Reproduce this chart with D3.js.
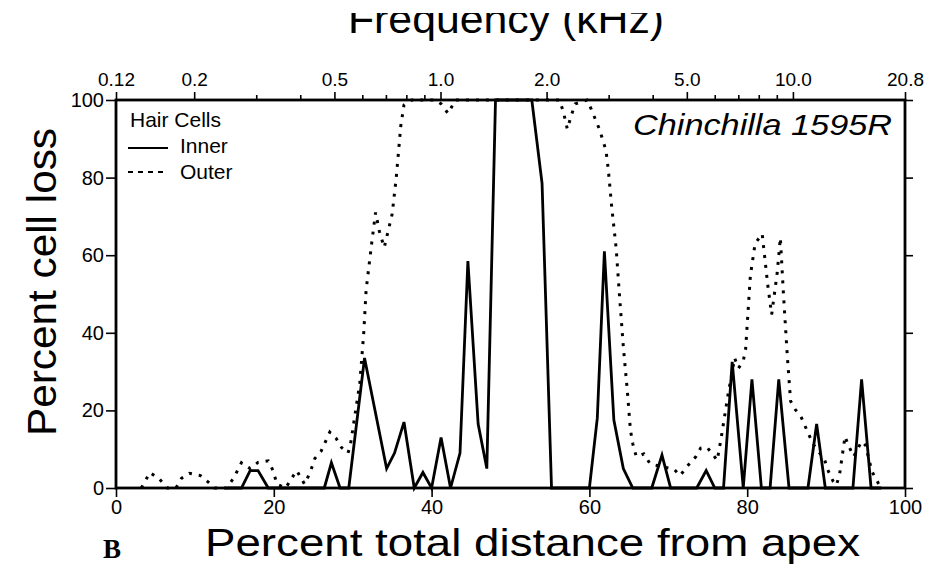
<!DOCTYPE html>
<html>
<head>
<meta charset="utf-8">
<script src="https://cdn.jsdelivr.net/npm/d3@7"></script>
<style>
  body { margin: 0; background: #fff; }
  svg { display: block; }
  text { font-family: "Liberation Sans", Arial, Helvetica, sans-serif; fill: #000; }
</style>
</head>
<body>
<div id="chart"></div>
<script>
// percent distance from apex / percent cell loss
var innerX = [14, 15.9, 17, 18, 19.3, 26.4, 27.3, 28.4, 29.5, 31.5, 34.3, 35.3, 36.5, 37.8, 38.9, 40, 41.2, 42.4, 43.6, 44.6, 45.9, 47, 48.1, 52.7, 54, 55.2, 60, 61, 61.9, 63.1, 64.3, 65.5, 67.9, 69.2, 70.3, 73.6, 74.8, 75.9, 77, 78.1, 79.5, 80.6, 81.8, 82.9, 84, 85.3, 87.7, 88.8, 89.9, 93.4, 94.5, 95.7, 97];
var innerY = [0, 0, 4.5, 4.5, 0, 0, 6.5, 0, 0, 33.5, 5, 9, 17, 0, 4, 0, 13, 0, 9, 58.5, 16.5, 5, 100, 100, 78.5, 0, 0, 18, 61, 17.5, 5, 0, 0, 8.5, 0, 0, 4.5, 0, 0, 32.5, 0, 28, 0, 0, 28, 0, 0, 16.5, 0, 0, 28, 0, 0];

var outerX = [3.2, 4.3, 5.5, 6.5, 7.6, 8.3, 9.3, 10.7, 11.7, 12.5, 14, 14.9, 15.9, 17, 18, 19.3, 19.9, 20.4, 21.5, 22.2, 22.9, 23.9, 24.6, 25.2, 26, 27.1, 27.9, 28.6, 29.4, 29.7, 30.3, 30.9, 31.4, 31.7, 32.4, 32.9, 33.4, 34, 35, 35.5, 36.1, 36.5, 37.5, 40.5, 41.2, 42.1, 43, 56.2, 56.7, 57.2, 57.7, 58.2, 59.7, 60.2, 61.3, 62.1, 62.4, 62.8, 63.4, 63.8, 64.3, 64.8, 65.2, 65.5, 65.9, 66.1, 66.9, 67.7, 69.7, 70.7, 71.5, 72.4, 73.5, 74.1, 74.9, 75.7, 76.2, 76.7, 77.5, 78.4, 78.9, 79.5, 79.8, 80.4, 81, 81.9, 82.6, 83.1, 83.8, 84.2, 84.6, 85.1, 85.5, 86.1, 86.8, 87.8, 88.4, 89.8, 90.3, 90.9, 91.3, 91.7, 92.4, 92.8, 93.5, 94.5, 95, 95.8, 96.6, 97];
var outerY = [0, 4, 2.3, 0, 0, 2.5, 3.8, 3.2, 1.5, 0, 0, 2.5, 6.5, 5, 6.6, 7, 4.5, 1, 0, 2.3, 4.5, 1, 4, 7.6, 9.5, 14.4, 12.8, 10.4, 9, 11, 19, 27, 40, 51, 63, 71, 66, 62, 70.6, 79.6, 93.4, 98.7, 100, 100, 99, 96.5, 100, 100, 97, 92.5, 96, 99, 100, 97.8, 92.3, 87, 82, 73, 61.6, 50, 36.4, 25.2, 14.9, 11.4, 8.4, 8, 8.8, 6.2, 5.3, 4.9, 3.2, 5.6, 8.1, 10.3, 10.5, 8.5, 7.1, 12.9, 23.2, 33.5, 30.9, 32.7, 35.8, 54.7, 63, 65.5, 52.4, 44.7, 55.4, 64.5, 49.8, 33.5, 22.4, 20.2, 18.5, 13.8, 11.2, 7.3, 4.3, 1.7, 0.7, 3.4, 13.3, 11.1, 8.1, 12, 11, 4.3, 1.3, 0];

var yTicks = [0, 20, 40, 60, 80, 100];
var xTicks = [0, 20, 40, 60, 80, 100];
var freqLabels = [0.12, 0.2, 0.5, 1.0, 2.0, 5.0, 10.0, 20.8];
var freqMinor = [0.3, 0.4, 0.6, 0.7, 0.8, 0.9, 3, 4, 6, 7, 8, 9];

var W = 945, H = 573;
var mLeft = 116, mRight = 905, mTop = 100, mBottom = 488;

var svg = d3.select("#chart").append("svg")
    .attr("width", W)
    .attr("height", H);

var x = d3.scaleLinear().domain([0, 100]).range([mLeft, mRight]);
var y = d3.scaleLinear().domain([0, 100]).range([mBottom, mTop]);
var f = d3.scaleLog().domain([0.12, 20.8]).range([mLeft, mRight]);

// bottom axis
var xAxis = svg.append("g")
    .attr("transform", "translate(0," + mBottom + ")")
    .call(d3.axisBottom(x).tickValues(xTicks).tickSize(9).tickPadding(3));
xAxis.selectAll("text").style("font-size", "20px");

// left axis
var yAxis = svg.append("g")
    .attr("transform", "translate(" + mLeft + ",0)")
    .call(d3.axisLeft(y).tickValues(yTicks).tickSize(10).tickPadding(2));
yAxis.selectAll("text").style("font-size", "20px");

// right axis, ticks only
svg.append("g")
    .attr("transform", "translate(" + mRight + ",0)")
    .call(d3.axisRight(y).tickValues(yTicks).tickSize(8).tickFormat(""));

// top frequency axis
var fAxis = svg.append("g")
    .attr("transform", "translate(0," + mTop + ")")
    .call(d3.axisTop(f).tickValues(freqLabels).tickSize(8).tickPadding(6)
        .tickFormat(function(d) { return d == 0.12 || d == 20.8 ? String(d) : d3.format(".1f")(d); }));
fAxis.selectAll("text").style("font-size", "19px");

svg.append("g")
    .attr("transform", "translate(0," + mTop + ")")
    .call(d3.axisTop(f).tickValues(freqMinor).tickSize(5).tickFormat(""));

svg.selectAll(".domain").remove();
svg.selectAll(".tick line").attr("stroke", "#000").attr("stroke-width", 1.6);

// frame
svg.append("rect")
    .attr("x", mLeft).attr("y", mTop)
    .attr("width", mRight - mLeft).attr("height", mBottom - mTop)
    .attr("fill", "none")
    .attr("stroke", "#000")
    .attr("stroke-width", 2.8);

var line = d3.line()
    .x(function(d) { return x(d[0]); })
    .y(function(d) { return y(d[1]); });

var outer = d3.zip(outerX, outerY);
var inner = d3.zip(innerX, innerY);

svg.append("path")
    .datum(outer)
    .attr("d", line)
    .attr("fill", "none")
    .attr("stroke", "#000")
    .attr("stroke-width", 3)
    .attr("stroke-dasharray", "3,7");

svg.append("path")
    .datum(inner)
    .attr("d", line)
    .attr("fill", "none")
    .attr("stroke", "#000")
    .attr("stroke-width", 2.8)
    .attr("stroke-linejoin", "miter");

// legend
svg.append("text").attr("x", 130).attr("y", 127).style("font-size", "21px").text("Hair Cells");
svg.append("line").attr("x1", 128).attr("x2", 168).attr("y1", 148).attr("y2", 148)
    .attr("stroke", "#000").attr("stroke-width", 2);
svg.append("text").attr("x", 180).attr("y", 153).style("font-size", "21px").text("Inner");
svg.append("line").attr("x1", 128).attr("x2", 164).attr("y1", 172).attr("y2", 172)
    .attr("stroke", "#000").attr("stroke-width", 2).attr("stroke-dasharray", "5,5");
svg.append("text").attr("x", 180).attr("y", 179).style("font-size", "21px").text("Outer");

svg.append("text")
    .attr("x", 633).attr("y", 135)
    .attr("textLength", 259).attr("lengthAdjust", "spacingAndGlyphs")
    .style("font-size", "29px").style("font-style", "italic")
    .text("Chinchilla  1595R");

// axis titles
svg.append("text")
    .attr("x", 205).attr("y", 556)
    .attr("textLength", 655).attr("lengthAdjust", "spacingAndGlyphs")
    .style("font-size", "39px")
    .text("Percent total distance from apex");

svg.append("text")
    .attr("transform", "translate(56,282) rotate(-90)")
    .attr("text-anchor", "middle")
    .attr("textLength", 308).attr("lengthAdjust", "spacingAndGlyphs")
    .style("font-size", "40px")
    .text("Percent cell loss");

// the scan cuts off the top of this title
svg.append("clipPath").attr("id", "cut")
    .append("rect").attr("x", 0).attr("y", 13).attr("width", W).attr("height", 60);

svg.append("text")
    .attr("clip-path", "url(#cut)")
    .attr("x", 348).attr("y", 33)
    .attr("textLength", 316).attr("lengthAdjust", "spacingAndGlyphs")
    .style("font-size", "40px")
    .text("Frequency (kHz)");

svg.append("text")
    .attr("x", 103).attr("y", 558)
    .style("font-family", "'Liberation Serif', 'Times New Roman', serif")
    .style("font-weight", "bold")
    .style("font-size", "27px")
    .text("B");
</script>
</body>
</html>
